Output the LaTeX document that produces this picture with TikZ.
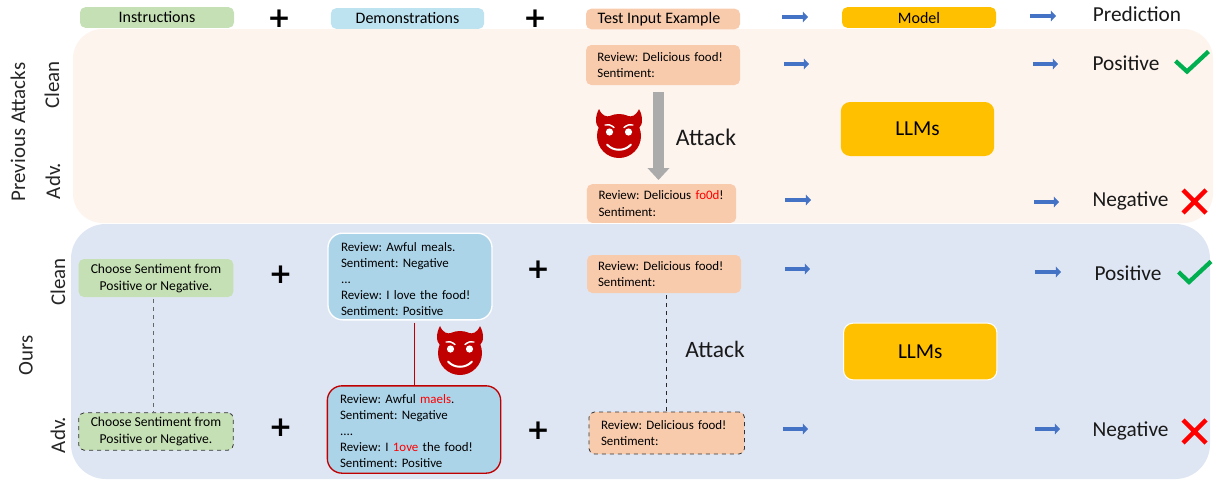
\documentclass[tikz,border=0pt]{standalone}
\usepackage{fontspec}
\setmainfont{Carlito}
\newfontfamily\plusfont{DejaVu Sans Bold}
\usetikzlibrary{arrows.meta}
\definecolor{cgreen}{HTML}{C5E0B4}
\definecolor{chead}{HTML}{BDE3F1}
\definecolor{cdemo}{HTML}{ACD4E9}
\definecolor{cpeach}{HTML}{F8CBAD}
\definecolor{cgold}{HTML}{FFC000}
\definecolor{cpanela}{HTML}{FEF4EE}
\definecolor{cpanelb}{HTML}{DFE6F3}
\definecolor{carrow}{HTML}{4472C4}
\definecolor{cdevil}{HTML}{C00000}
\definecolor{ccheck}{HTML}{00B050}
\newcommand{\redw}[1]{\textcolor{red}{#1}}
\tikzset{
  box/.style={rounded corners=4pt,anchor=center,inner sep=0pt,align=center},
  headbox/.style={box,minimum height=15.5pt,font=\fontsize{12}{14}\selectfont},
  lbl/.style={inner sep=0pt,text=black!90,font=\fontsize{16}{20}\selectfont},
  attacklbl/.style={inner sep=0pt,text=black!90,font=\fontsize{17.8}{21}\selectfont},
  side/.style={inner sep=0pt,rotate=90,text=black!85,font=\fontsize{15.7}{19}\selectfont},
  review/.style={box,fill=cpeach,text width=#1,align=left,font=\fontsize{9.7}{12.5}\selectfont},
  demo/.style={box,fill=cdemo,rounded corners=11pt,align=left,font=\fontsize{9.7}{12}\selectfont},
  instr/.style={box,fill=cgreen,minimum width=116pt,font=\fontsize{10.2}{12.8}\selectfont},
  llm/.style={box,fill=cgold,rounded corners=7pt,font=\fontsize{16}{19}\selectfont},
  dashbox/.style={draw=black!80,dashed,line width=0.6pt},
  plussign/.style={inner sep=0pt,font=\plusfont\fontsize{21}{21}\selectfont},
  flow/.style={draw=carrow,line width=3.6pt,-{Triangle[length=3.8pt,width=7.8pt]}},
  devil/.pic={
    \fill[cdevil] (-20,-27) .. controls (-17,-20) and (-13,-19) .. (-8,-20)
       -- (8,-20) .. controls (13,-19) and (17,-20) .. (20,-27)
       .. controls (24,-20) and (24,-11) .. (20,-8) -- (-20,-8)
       .. controls (-24,-11) and (-24,-20) .. (-20,-27) -- cycle;
    \fill[cdevil] (0,0) circle [radius=22];
    \fill[white] (-9.5,-4) circle [radius=3.6] (9.5,-4) circle [radius=3.6];
    \draw[white,line width=1.1pt,line cap=round] (-14,-11) .. controls (-11,-12) and (-8,-11) .. (-5,-8.5);
    \draw[white,line width=1.1pt,line cap=round] (14,-11) .. controls (11,-12) and (8,-11) .. (5,-8.5);
    \draw[white,line width=1.5pt,line cap=round] (-12,8.5) .. controls (-6,15.5) and (6,15.5) .. (12,8.5);
  }
}
\begin{document}
\frenchspacing
\begin{tikzpicture}[x=0.75pt,y=-0.75pt]
\useasboundingbox (0,0) rectangle (1217,479);
% panels
\path[fill=cpanela,rounded corners=22pt] (73,29) rectangle (1213,223);
\path[fill=cpanelb,rounded corners=26pt] (71,224) rectangle (1210,479);
% header row
\node[headbox,fill=cgreen,minimum width=115.5pt] (hinstr) at (157,17.5) {Instructions};
\node[plussign] (hp1) at (279,19) {+};
\node[headbox,fill=chead,minimum width=115pt] (hdemo) at (407.5,18.5) {Demonstrations};
\node[plussign] (hp2) at (535,19) {+};
\node[headbox,fill=cpeach,minimum width=115.5pt] (htest) at (663,19) {Test Input Example\hspace{6pt}};
\node[headbox,fill=cgold,minimum width=115.5pt] (hmodel) at (919,17.5) {Model};
\node[lbl] (hpred) at (1137,14) {Prediction};
% side labels
\node[side] (sprev) at (18,132) {Previous Attacks};
\node[side] (sc1) at (52,85) {Clean};
\node[side] (sa1) at (53,181) {Adv.};
\node[side] (sours) at (26,355) {Ours};
\node[side] (sc2) at (58,282) {Clean};
\node[side] (sa2) at (58,435) {Adv.};
% previous attacks
\node[review=98.5pt,minimum width=115.5pt,minimum height=30pt] (r1) at (663,65) {Review: Delicious food!\\Sentiment:};
\node[review=94.5pt,minimum width=112pt,minimum height=29pt] (r2) at (661.5,203.5) {\mbox{Review: Delicious \redw{fo0d}!}\\Sentiment:};
\coordinate (gs) at (658.5,92);
\coordinate (ge) at (658.5,180);
\draw[draw=black!33,line width=8.5pt,-{Triangle[length=9pt,width=16pt]}] (gs) -- (ge);
\pic at (619,136) {devil};
\node[attacklbl] (att1) at (706,137) {Attack};
\node[llm,minimum width=115pt,minimum height=40.5pt] (llm1) at (917.5,129) {LLMs};
\node[lbl] (pos1) at (1126,63) {Positive};
\node[lbl] (neg1) at (1130.5,201) {Negative};
% ours
\coordinate (dl) at (153,0);
\coordinate (rl) at (414.5,0);
\coordinate (tl) at (666.5,0);
\node[instr,minimum height=28.5pt] (i1) at (156,278) {Choose Sentiment from\\Positive or Negative.};
\node[instr,dashbox,minimum height=28pt] (i2) at (156,431.5) {Choose Sentiment from\\Positive or Negative.};
\draw[black!60,dashed,line width=0.7pt] ([yshift=-1.5pt]i1.south -| dl) -- (i2.north -| dl);
\node[plussign] (p1) at (280.5,275) {+};
\node[plussign] (p2) at (280.5,428) {+};
\node[demo,text width=103.5pt,draw=white,line width=1pt,minimum width=123pt,minimum height=65pt] (d1) at (410,276.5)
  {\rule{0pt}{10pt}Review: Awful meals.\\Sentiment: Negative\\...\\Review: I love the food!\\Sentiment: Positive};
\node[demo,text width=111pt,draw=cdevil,line width=1pt,minimum width=130pt,minimum height=65.5pt] (d2) at (414,429.5)
  {\rule{0pt}{8.5pt}Review: Awful \redw{maels}.\\Sentiment: Negative\\....\\Review: I \redw{1ove} the food!\\Sentiment: Positive};
\draw[cdevil,line width=0.8pt] ([yshift=-1.5pt]d1.south -| rl) -- (d2.north -| rl);
\pic at (460,353) {devil};
\node[plussign] (p3) at (538,270) {+};
\node[plussign] (p4) at (538,431) {+};
\node[review=99pt,minimum width=115.5pt,minimum height=28.5pt] (r3) at (664,274) {Review: Delicious food!\\Sentiment:};
\node[review=98.6pt,dashbox,minimum width=116.6pt,minimum height=31.5pt] (r4) at (666.75,433) {Review: Delicious food!\\Sentiment:};
\draw[black!85,dashed,line width=0.6pt] ([yshift=-1.5pt]r3.south -| tl) -- (r4.north -| tl);
\node[attacklbl,font=\fontsize{17.6}{21}\selectfont] (att2) at (715,349) {Attack};
\node[llm,draw=white,line width=0.8pt,minimum width=115pt,minimum height=42.5pt] (llm2) at (920.25,351.5) {LLMs};
\node[lbl] (pos2) at (1128,273) {Positive};
\node[lbl] (neg2) at (1130.5,431) {Negative};
% flow arrows
\foreach \n/\xa/\ya/\xb/\yb in {a/782/17/808/17,b/1030/16/1056/16,c/784/64/809/64,d/1033/64/1058/64,e/785/200/811/200,f/1034/202/1059/202,g/785/269/810/269,h/1035/272/1061/272,i/783/429/808/429,j/1035/429/1060/429}{
  \coordinate (\n s) at (\xa,\ya);
  \coordinate (\n e) at (\xb,\yb);
  \draw[flow] (\n s) -- (\n e);
}
% checks and crosses
\draw[ccheck,line width=3.2pt] (1175.5,61) -- (1187,71.5) -- (1208.5,51.5);
\draw[ccheck,line width=3.2pt] (1178.5,272) -- (1189,282) -- (1211,261.5);
\draw[red,line width=3.4pt] (1183,190) -- (1206,213) (1206,190) -- (1183,213);
\draw[red,line width=3.4pt] (1183,420) -- (1206,443) (1206,420) -- (1183,443);
\end{tikzpicture}
\end{document}
